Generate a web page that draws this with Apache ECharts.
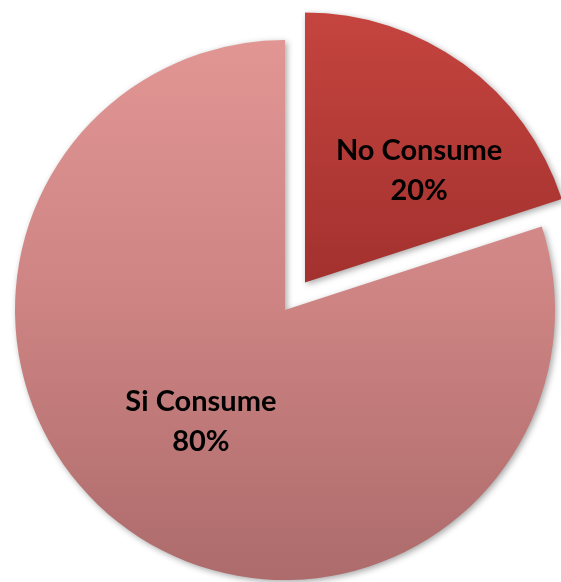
<!DOCTYPE html>
<html>
<head>
<meta charset="utf-8">
<script src="https://cdn.jsdelivr.net/npm/echarts@6/dist/echarts.min.js"></script>
<style>
  html, body { margin: 0; padding: 0; background: #ffffff; }
  #chart { width: 561px; height: 582px; }
</style>
</head>
<body>
<div id="chart"></div>
<script>
// Consumption share
const categories = ['No Consume', 'Si Consume'];
const shares = [20, 80];

const sliceFills = [
  new echarts.graphic.LinearGradient(0, 0, 0, 1, [
    { offset: 0, color: '#c5443f' },
    { offset: 1, color: '#a3312e' }
  ]),
  new echarts.graphic.LinearGradient(0, 0, 0, 1, [
    { offset: 0, color: '#e19694' },
    { offset: 0.5, color: '#cc8382' },
    { offset: 1, color: '#ad6b6b' }
  ])
];

// Asymmetric padding nudges each label within its slice
const labelPads = [[0, 0, 28, 66], [0, 6, 0, 0]];

const chart = echarts.init(document.getElementById('chart'), null, { renderer: 'canvas' });

chart.setOption({
  animation: false,
  backgroundColor: '#ffffff',
  series: [{
    type: 'pie',
    center: [285, 310],
    radius: 270,
    startAngle: 90,
    clockwise: true,
    selectedMode: 'single',
    selectedOffset: 34,
    avoidLabelOverlap: false,
    itemStyle: {
      shadowColor: 'rgba(0,0,0,0.35)',
      shadowBlur: 6,
      shadowOffsetX: 2,
      shadowOffsetY: 2
    },
    label: {
      show: true,
      position: 'inside',
      formatter: p => p.name + '\n' + p.value + '%',
      fontFamily: 'Lato',
      fontWeight: 'bold',
      fontSize: 29,
      lineHeight: 40,
      color: '#000000',
      align: 'center'
    },
    labelLine: { show: false },
    emphasis: { disabled: true },
    data: categories.map((name, i) => ({
      name: name,
      value: shares[i],
      selected: i === 0,
      itemStyle: { color: sliceFills[i] },
      label: { padding: labelPads[i] }
    }))
  }]
});
</script>
</body>
</html>
